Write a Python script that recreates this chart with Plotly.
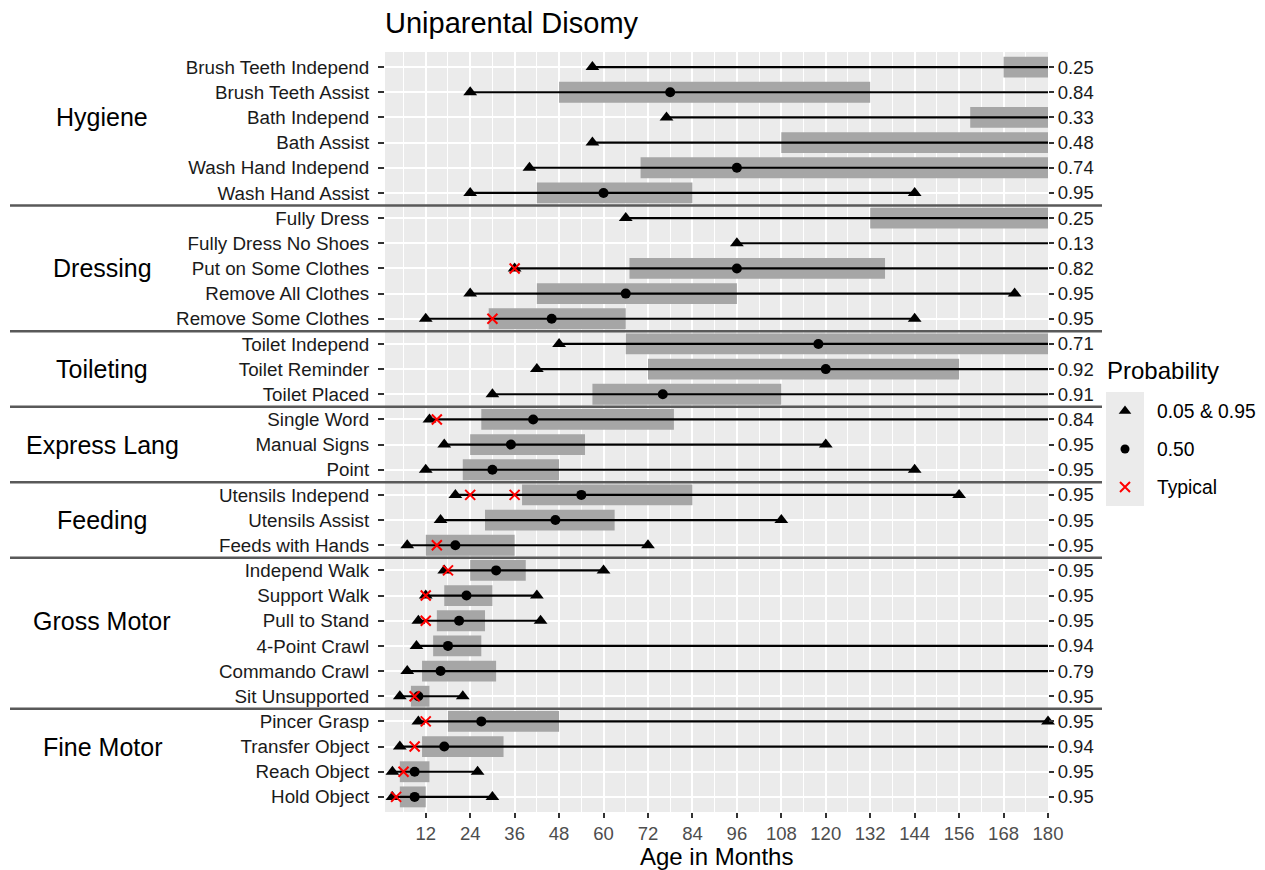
import plotly.graph_objects as go

# ---------------- data ----------------
labels = ["Brush Teeth Independ", "Brush Teeth Assist", "Bath Independ", "Bath Assist",
          "Wash Hand Independ", "Wash Hand Assist",
          "Fully Dress", "Fully Dress No Shoes", "Put on Some Clothes", "Remove All Clothes",
          "Remove Some Clothes",
          "Toilet Independ", "Toilet Reminder", "Toilet Placed",
          "Single Word", "Manual Signs", "Point",
          "Utensils Independ", "Utensils Assist", "Feeds with Hands",
          "Independ Walk", "Support Walk", "Pull to Stand", "4-Point Crawl", "Commando Crawl",
          "Sit Unsupported",
          "Pincer Grasp", "Transfer Object", "Reach Object", "Hold Object"]

groups = ["Hygiene", "Dressing", "Toileting", "Express Lang", "Feeding", "Gross Motor", "Fine Motor"]
group_sizes = [6, 5, 3, 3, 3, 6, 4]

# None = beyond 180 months (not shown)
q05 = [57, 24, 77, 57, 40, 24,
       66, 96, 36, 24, 12,
       48, 42, 30,
       13, 17, 12,
       20, 16, 7,
       17, 12, 10, 9.5, 7, 5,
       10, 5, 3, 3]
q25 = [168, 48, 159, 108, 70, 42,
       132, None, 67, 42, 29,
       66, 72, 57,
       27, 24, 22,
       38, 28, 12,
       24, 17, 15, 14, 11, 8,
       18, 11, 5, 5]
q50 = [None, 78, None, None, 96, 60,
       None, None, 96, 66, 46,
       118, 120, 76,
       41, 35, 30,
       54, 47, 20,
       31, 23, 21, 18, 16, 10,
       27, 17, 9, 9]
q75 = [None, 132, None, None, None, 84,
       None, None, 136, 96, 66,
       None, 156, 108,
       79, 55, 48,
       84, 63, 36,
       39, 30, 28, 27, 31, 13,
       48, 33, 13, 12]
q95 = [None, None, None, None, None, 144,
       None, None, None, 171, 144,
       None, None, None,
       None, 120, 144,
       156, 108, 72,
       60, 42, 43, None, None, 22,
       180, None, 26, 30]
typical = [[], [], [], [], [], [],
           [], [], [36], [], [30],
           [], [], [],
           [15], [], [],
           [24, 36], [], [15],
           [18], [12], [12], [], [], [9],
           [12], [9], [6], [4]]
probability = ["0.25", "0.84", "0.33", "0.48", "0.74", "0.95",
               "0.25", "0.13", "0.82", "0.95", "0.95",
               "0.71", "0.92", "0.91",
               "0.84", "0.95", "0.95",
               "0.95", "0.95", "0.95",
               "0.95", "0.95", "0.95", "0.94", "0.79", "0.95",
               "0.95", "0.94", "0.95", "0.95"]

x_ticks = list(range(12, 181, 12))
x_minor = list(range(6, 181, 12))
X_MIN, X_MAX = 1, 180

# ---------------- geometry ----------------
OFF = 8                      # page body margin
W, H = 1265 - 2 * OFF, 870 - OFF
PL, PR, PT, PB = 385, 1048, 52, 812   # panel box in screenshot pixels
FONT = "Liberation Sans, Arial, sans-serif"

def px(xp):
    return (xp - OFF) / W

def py(yp):
    return (PB - yp) / (PB - PT)

rows = list(range(len(labels)))

fig = go.Figure()

# IQR bars
bx, bb, by = [], [], []
for i in rows:
    if q25[i] is None:
        continue
    hi = q75[i] if q75[i] is not None else X_MAX
    bb.append(q25[i]); bx.append(hi - q25[i]); by.append(i)
fig.add_trace(go.Bar(orientation="h", y=by, x=bx, base=bb, width=0.83,
                     marker=dict(color="#A6A6A6", line=dict(width=0)),
                     showlegend=False, hoverinfo="skip"))

# whisker lines
lx, ly = [], []
for i in rows:
    hi = q95[i] if q95[i] is not None else X_MAX
    lx += [q05[i], hi, None]; ly += [i, i, None]
fig.add_trace(go.Scatter(x=lx, y=ly, mode="lines", line=dict(color="black", width=2.2),
                         showlegend=False, hoverinfo="skip"))

# triangles 0.05 & 0.95
tx, ty = [], []
for i in rows:
    tx.append(q05[i]); ty.append(i)
    if q95[i] is not None:
        tx.append(q95[i]); ty.append(i)
fig.add_trace(go.Scatter(x=tx, y=ty, mode="markers", cliponaxis=False,
                         marker=dict(symbol="triangle-up", size=12, color="black"),
                         showlegend=False, hoverinfo="skip"))

# medians
mx = [q50[i] for i in rows if q50[i] is not None]
my = [i for i in rows if q50[i] is not None]
fig.add_trace(go.Scatter(x=mx, y=my, mode="markers",
                         marker=dict(symbol="circle", size=10, color="black"),
                         showlegend=False, hoverinfo="skip"))

# typical
cx, cy = [], []
for i in rows:
    for v in typical[i]:
        cx.append(v); cy.append(i)
fig.add_trace(go.Scatter(x=cx, y=cy, mode="markers",
                         marker=dict(symbol="x-thin", size=10, color="red",
                                     line=dict(color="red", width=2)),
                         showlegend=False, hoverinfo="skip"))

# invisible trace for right axis
fig.add_trace(go.Scatter(x=q05, y=rows, yaxis="y2", mode="markers",
                         marker=dict(opacity=0), showlegend=False, hoverinfo="skip"))

# legend keys (own small subplot)
leg_y = [2.5, 1.5, 0.5]
fig.add_trace(go.Scatter(x=[0.5], y=[leg_y[0]], xaxis="x3", yaxis="y3", mode="markers",
                         marker=dict(symbol="triangle-up", size=11, color="black"),
                         showlegend=False, hoverinfo="skip"))
fig.add_trace(go.Scatter(x=[0.5], y=[leg_y[1]], xaxis="x3", yaxis="y3", mode="markers",
                         marker=dict(symbol="circle", size=9, color="black"),
                         showlegend=False, hoverinfo="skip"))
fig.add_trace(go.Scatter(x=[0.5], y=[leg_y[2]], xaxis="x3", yaxis="y3", mode="markers",
                         marker=dict(symbol="x-thin", size=10, color="red",
                                     line=dict(color="red", width=2)),
                         showlegend=False, hoverinfo="skip"))

yrange = [len(labels) - 1 + 0.6, -0.6]

annotations = []
shapes = []

# group labels and separators
start = 0
for g, n in zip(groups, group_sizes):
    annotations.append(dict(text=g, x=px(102), xref="paper", y=start + (n - 1) // 2, yref="y",
                            showarrow=False, xanchor="center", yanchor="middle",
                            font=dict(family=FONT, size=25, color="black")))
    start += n
    if start < len(labels):
        shapes.append(dict(type="line", xref="paper", yref="y", x0=px(10), x1=px(1102),
                           y0=start - 0.5, y1=start - 0.5,
                           line=dict(color="#595959", width=2.5), layer="above"))

# legend box, title, labels
shapes.append(dict(type="rect", xref="paper", yref="paper", x0=px(1106), x1=px(1144),
                   y0=py(506), y1=py(392), fillcolor="#EBEBEB", line=dict(width=0),
                   layer="below"))
annotations.append(dict(text="Probability", x=px(1105), y=py(370), xref="paper", yref="paper",
                        showarrow=False, xanchor="left", yanchor="middle",
                        font=dict(family=FONT, size=24, color="black")))
for txt, yy in zip(["0.05 & 0.95", "0.50", "Typical"], [411, 449, 487]):
    annotations.append(dict(text=txt, x=px(1155), y=py(yy), xref="paper", yref="paper",
                            showarrow=False, xanchor="left", yanchor="middle",
                            font=dict(family=FONT, size=19.3, color="black")))

# x-axis title
annotations.append(dict(text="Age in Months", x=px((PL + PR) / 2), y=py(857),
                        xref="paper", yref="paper", showarrow=False,
                        xanchor="center", yanchor="middle",
                        font=dict(family=FONT, size=24, color="black")))

fig.update_layout(
    width=W, height=H,
    margin=dict(l=0, r=0, t=PT - OFF, b=H - (PB - OFF), pad=0, autoexpand=False),
    paper_bgcolor="white",
    plot_bgcolor="#EBEBEB",
    barmode="overlay",
    showlegend=False,
    title=dict(text="Uniparental Disomy", x=px(PL), xanchor="left", xref="container",
               y=1 - (23 - OFF) / H, yanchor="middle", yref="container",
               font=dict(family=FONT, size=29, color="black")),
    xaxis=dict(domain=[px(PL), px(PR)], range=[X_MIN, X_MAX], tickmode="array",
               tickvals=x_ticks, ticktext=[str(v) for v in x_ticks], automargin=False,
               showgrid=True, gridcolor="white", gridwidth=1.6, zeroline=False,
               ticks="outside", ticklen=5, tickwidth=1.8, tickcolor="#333333",
               tickfont=dict(family=FONT, size=18.5, color="#4D4D4D"),
               minor=dict(tickvals=x_minor, showgrid=True, gridcolor="white", gridwidth=0.8,
                          ticks=""),
               showline=False, fixedrange=True),
    yaxis=dict(domain=[0, 1], range=yrange, tickmode="array", tickvals=rows, ticktext=labels,
               automargin=False,
               showgrid=True, gridcolor="white", gridwidth=1.6, zeroline=False,
               ticks="outside", ticklen=6, tickwidth=1.8, tickcolor="#333333",
               ticklabelstandoff=5,
               tickfont=dict(family=FONT, size=18.8, color="#1A1A1A"), showline=False),
    yaxis2=dict(overlaying="y", side="right", anchor="x", range=yrange, tickmode="array",
                tickvals=rows, ticktext=probability, showgrid=False, zeroline=False,
                automargin=False,
                ticks="outside", ticklen=5, tickwidth=1.8, tickcolor="#333333",
                tickfont=dict(family=FONT, size=18.5, color="#1A1A1A"), showline=False),
    xaxis3=dict(domain=[px(1106), px(1144)], range=[0, 1], anchor="y3", visible=False,
                showgrid=False, zeroline=False, automargin=False),
    yaxis3=dict(domain=[py(506), py(392)], range=[0, 3], anchor="x3", visible=False,
                showgrid=False, zeroline=False, automargin=False),
    annotations=annotations,
    shapes=shapes,
)

fig.write_html("out.html")
